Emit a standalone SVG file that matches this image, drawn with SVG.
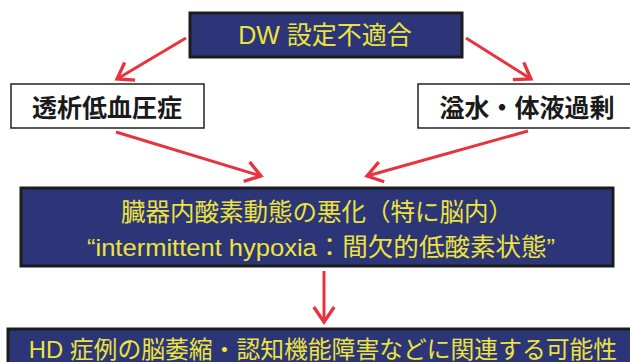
<svg xmlns="http://www.w3.org/2000/svg" width="630" height="362" viewBox="0 0 630 362">
<style>
.navy{fill:#2c3578;stroke:#1c1c1c;stroke-width:3}
.white{fill:#fff;stroke:#222;stroke-width:1.5}
.yt{fill:#ece43c;font-family:"Liberation Sans","Noto Sans CJK JP",sans-serif;font-size:24.5px;text-anchor:middle;dominant-baseline:central}
.bt{fill:#1a1a1a;font-family:"Noto Sans CJK JP",sans-serif;font-weight:bold;font-size:25px;text-anchor:middle;dominant-baseline:central}
.arr{stroke:#e8333c;stroke-width:3;fill:none;marker-end:url(#ah)}
</style>
<defs>
<marker id="ah" markerWidth="8" markerHeight="8" viewBox="-6 -4 7 8" refX="0" refY="0" orient="auto" markerUnits="strokeWidth">
<path d="M-5,-3.4 L0,0 L-5,3.4" fill="none" stroke="#e8333c" stroke-width="1.1" stroke-linejoin="miter"/>
</marker>
</defs>
<rect width="630" height="362" fill="#fff"/>
<g id="connectors">
<line class="arr" x1="186" y1="38" x2="117" y2="79"/>
<line class="arr" x1="466" y1="38" x2="531" y2="79"/>
<line class="arr" x1="116" y1="132" x2="261" y2="176"/>
<line class="arr" x1="528" y1="131" x2="367" y2="176"/>
<line class="arr" x1="324" y1="271" x2="324" y2="322"/>
</g>
<g id="dw">
<rect class="navy" x="190" y="13" width="272" height="44"/>
<text class="yt" x="325" y="35" style="font-size:25px">DW 設定不適合</text>
</g>
<g id="hypotension">
<rect class="white" x="11" y="84" width="193" height="44"/>
<text class="bt" x="107" y="106">透析低血圧症</text>
</g>
<g id="overload">
<rect class="white" x="418" y="84" width="214" height="44"/>
<text class="bt" x="527" y="106">溢水・体液過剰</text>
</g>
<g id="hypoxia">
<rect class="navy" x="21" y="188" width="592" height="78"/>
<text class="yt" x="317" y="212">臓器内酸素動態の悪化（特に脳内）</text>
<text class="yt" x="321" y="247" textLength="468" lengthAdjust="spacingAndGlyphs">“intermittent hypoxia：間欠的低酸素状態”</text>
</g>
<g id="outcome">
<rect class="navy" x="8" y="329" width="630" height="40"/>
<text class="yt" x="323" y="349" style="font-size:23.8px">HD 症例の脳萎縮・認知機能障害などに関連する可能性</text>
</g>
</svg>
